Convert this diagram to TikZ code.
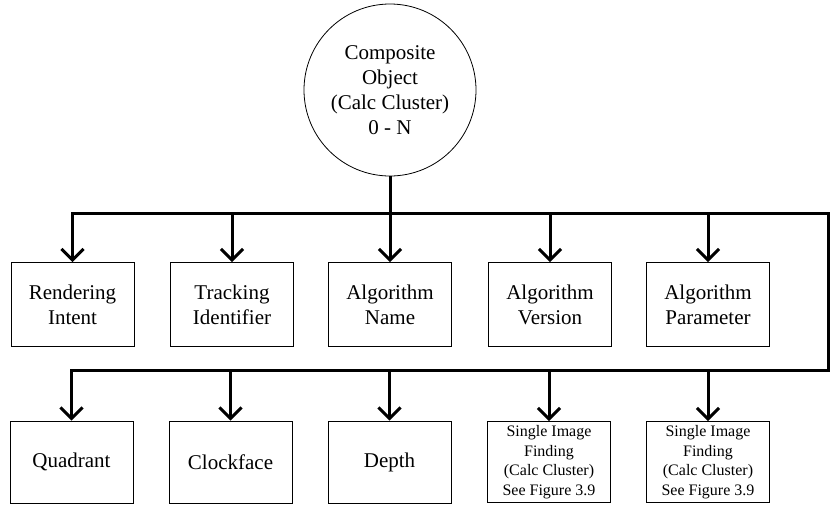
\documentclass[tikz,border=0pt]{standalone}
\usepackage{fontspec}
\setmainfont{Liberation Serif}
\newfontfamily\tnr{Liberation Serif}
\usetikzlibrary{arrows.meta}
\begin{document}
\begin{tikzpicture}[x=1pt,y=-1pt,
  box/.style={draw,line width=0.8pt,minimum width=123pt,minimum height=84pt,align=center,inner sep=0pt,
    font=\tnr\fontsize{21}{25}\selectfont},
  smallbox/.style={box,minimum height=81pt,font=\tnr\fontsize{16}{19.5}\selectfont},
  circ/.style={draw,circle,line width=0.8pt,minimum size=172pt,inner sep=0pt,align=center,
    font=\tnr\fontsize{21}{25}\selectfont},
  bus/.style={line width=3pt,line join=miter,line cap=rect},
  arr/.style={line width=3pt,-{Straight Barb[length=11pt,width=22pt]}}]
\useasboundingbox (0,0) rectangle (831,507);
\node[circ] (comp) at (390,90) {Composite\\Object\\(Calc Cluster)\\0 - N};
\node[box] (r1) at (72.5,304.5) {Rendering\\Intent};
\node[box] (r2) at (232,304.5) {Tracking\\Identifier};
\node[box] (r3) at (390,304.5) {Algorithm\\Name};
\node[box] (r4) at (550,304.5) {Algorithm\\Version};
\node[box] (r5) at (708,304.5) {Algorithm\\Parameter};
\node[box,minimum height=82pt] (s1) at (71.5,462) {Quadrant};
\node[box,minimum height=82pt] (s2) at (230.5,462) {Clockface};
\node[box,minimum height=82pt] (s3) at (389.5,462) {Depth};
\node[smallbox] (s4) at (549,462) {Single Image\\Finding\\(Calc Cluster)\\See Figure 3.9};
\node[smallbox] (s5) at (708,462) {Single Image\\Finding\\(Calc Cluster)\\See Figure 3.9};
\coordinate (busL) at (72.5,213);
\coordinate (busR) at (828,213);
\coordinate (busRB) at (828,370);
\coordinate (busLB) at (71.5,370);
\draw[line width=3pt] (comp.south) -- (comp.south |- busL);
\draw[bus] (busL) -- (busR) -- (busRB) -- (busLB);
\foreach \n in {r1,r2,r3,r4,r5}{\draw[arr] (\n.north |- busL) -- (\n.north);}
\foreach \n in {s1,s2,s3,s4,s5}{\draw[arr] (\n.north |- busLB) -- (\n.north);}
\end{tikzpicture}
\end{document}
